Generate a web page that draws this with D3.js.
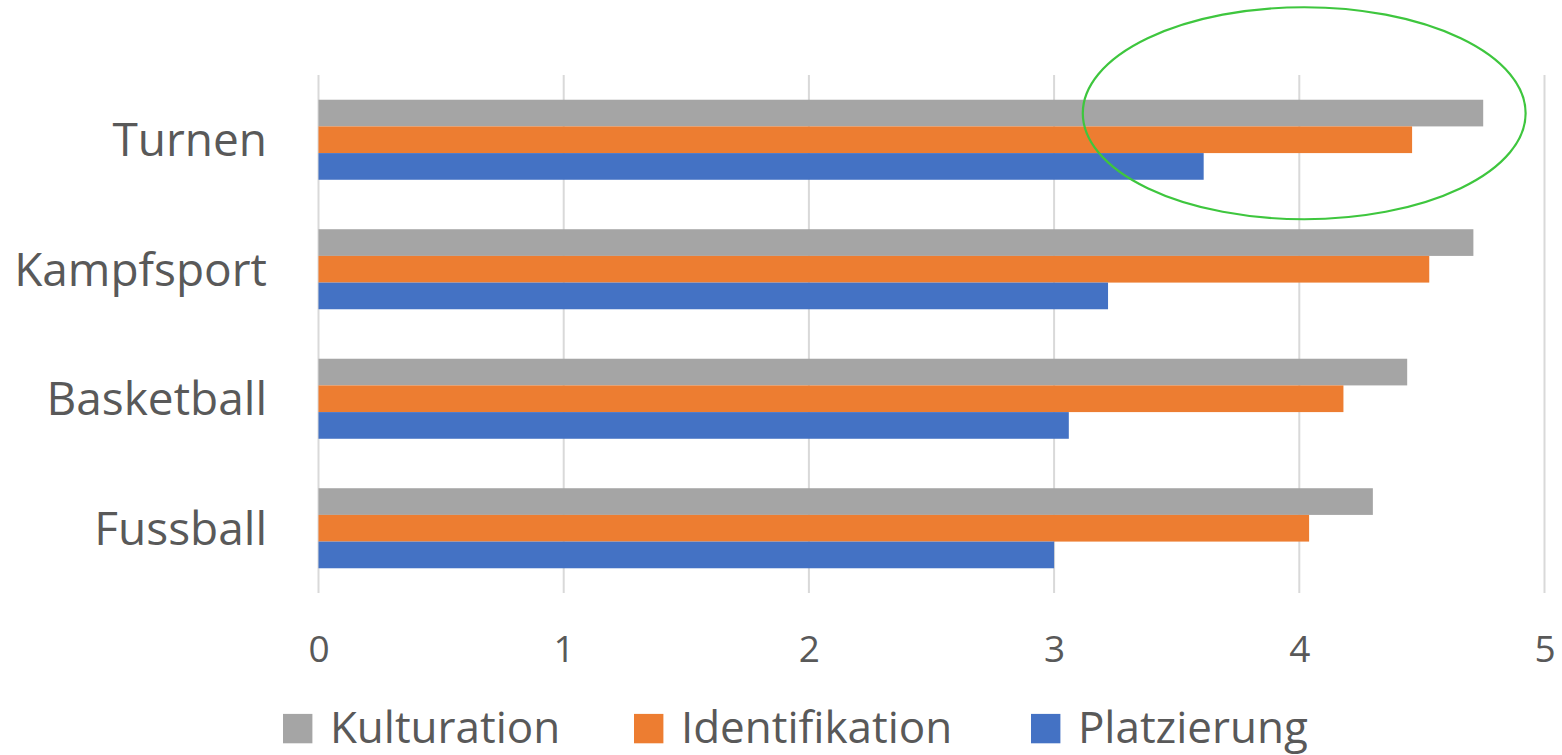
<!DOCTYPE html>
<html>
<head>
<meta charset="utf-8">
<script src="https://cdn.jsdelivr.net/npm/d3@7"></script>
<style>
  html, body { margin: 0; padding: 0; background: #ffffff; }
  svg { display: block; }
  text { font-family: "Open Sans", "Noto Sans", sans-serif; fill: #595959; }
</style>
</head>
<body>
<svg id="chart" width="1562" height="755"></svg>
<script>
// Sports categories, top to bottom
const categories = ["Turnen", "Kampfsport", "Basketball", "Fussball"];

// Series names, in bar order within each group (top to bottom)
const seriesNames = ["Kulturation", "Identifikation", "Platzierung"];

// Mean values per category for each series
const kulturation    = [4.75, 4.71, 4.44, 4.30];
const identifikation = [4.46, 4.53, 4.18, 4.04];
const platzierung    = [3.61, 3.22, 3.06, 3.00];

// Value axis ticks
const xTicks = [0, 1, 2, 3, 4, 5];

const seriesColors = ["#A5A5A5", "#ED7D31", "#4472C4"];
const seriesValues = [kulturation, identifikation, platzierung];

const svg = d3.select("#chart");

const plot = { left: 318.5, right: 1544.5, top: 75, bottom: 593 };

const x = d3.scaleLinear()
  .domain([0, 5])
  .range([plot.left, plot.right]);

const y = d3.scaleBand()
  .domain(categories)
  .range([plot.top, plot.bottom])
  .paddingInner(0.382)
  .paddingOuter(0.191);

const ySeries = d3.scaleBand()
  .domain(seriesNames)
  .range([0, y.bandwidth()]);

const color = d3.scaleOrdinal().domain(seriesNames).range(seriesColors);

// Vertical gridlines
svg.append("g")
  .selectAll("line")
  .data(xTicks)
  .join("line")
  .attr("x1", d => x(d))
  .attr("x2", d => x(d))
  .attr("y1", plot.top)
  .attr("y2", plot.bottom)
  .attr("stroke", "#D9D9D9")
  .attr("stroke-width", 2);

// Bars
const rows = categories.map((c, i) => ({
  category: c,
  values: seriesNames.map((s, j) => ({ series: s, value: seriesValues[j][i] }))
}));

const groups = svg.append("g")
  .selectAll("g")
  .data(rows)
  .join("g")
  .attr("transform", d => `translate(0,${y(d.category)})`);

groups.selectAll("rect")
  .data(d => d.values)
  .join("rect")
  .attr("x", x(0))
  .attr("y", d => ySeries(d.series))
  .attr("width", d => x(d.value) - x(0))
  .attr("height", ySeries.bandwidth())
  .attr("fill", d => color(d.series));

// Category labels
svg.append("g")
  .selectAll("text")
  .data(categories)
  .join("text")
  .attr("x", 267)
  .attr("y", d => y(d) + y.bandwidth() / 2 + 16.5)
  .attr("text-anchor", "end")
  .attr("font-size", 46)
  .text(d => d);

// Value axis labels
const xAxis = d3.axisBottom(x)
  .tickValues(xTicks)
  .tickFormat(d3.format("d"))
  .tickSize(0)
  .tickPadding(0);

const axisG = svg.append("g")
  .attr("transform", `translate(0,${plot.bottom})`)
  .call(xAxis);
axisG.select(".domain").remove();
axisG.selectAll("text")
  .attr("y", 68.5)
  .attr("dy", null)
  .attr("font-size", 37)
  .attr("font-family", "'Open Sans', 'Noto Sans', sans-serif")
  .attr("fill", "#595959");

// Highlight ellipse around the top group's leading bars
svg.append("ellipse")
  .attr("cx", x(4.02))
  .attr("cy", y("Turnen") + 13.5)
  .attr("rx", x(0.903) - x(0))
  .attr("ry", 106)
  .attr("fill", "none")
  .attr("stroke", "#3EC63E")
  .attr("stroke-width", 2.2);

// Legend: swatch + label per series along the bottom
const legendBaseline = 743.3;
const sw = 29.4;
const legendX = [283, 634, 1031];

const items = svg.append("g")
  .selectAll("g")
  .data(seriesNames)
  .join("g")
  .attr("transform", (d, i) => `translate(${legendX[i]},0)`);

items.append("rect")
  .attr("x", 0)
  .attr("y", legendBaseline - sw)
  .attr("width", sw)
  .attr("height", sw)
  .attr("fill", d => color(d));

items.append("text")
  .attr("x", sw + 17.5)
  .attr("y", legendBaseline)
  .attr("font-size", 44)
  .text(d => d);
</script>
</body>
</html>
